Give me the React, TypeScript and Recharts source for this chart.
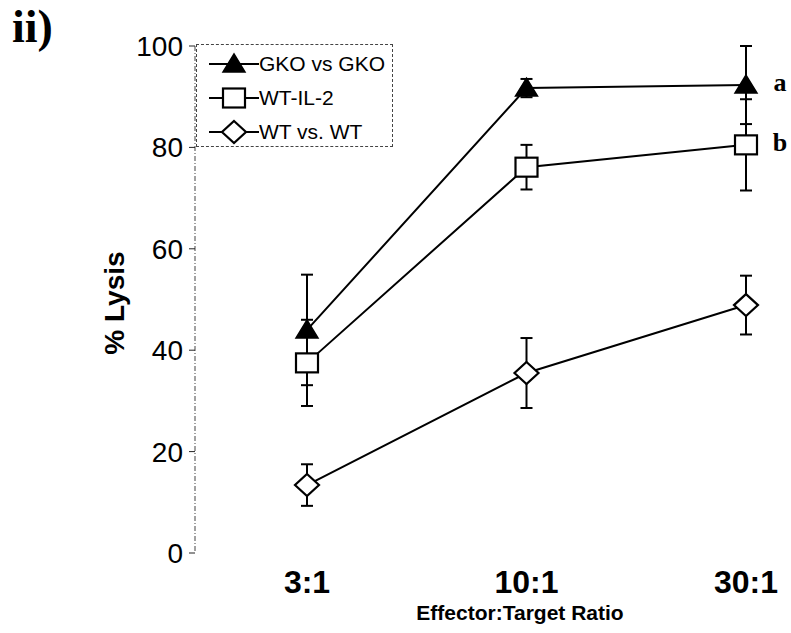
import React from 'react';
import { LineChart, Line, XAxis, YAxis, ErrorBar, Legend, LabelList } from 'recharts';

const ratios = ['3:1', '10:1', '30:1'];
const gkoLysis = [44, 91.7, 92.3];
const gkoErr = [10.9, 1.8, 7.7];
const il2Lysis = [37.5, 76.1, 80.5];
const il2Err = [8.5, 4.4, 9.0];
const wtLysis = [13.4, 35.5, 48.9];
const wtErr = [4.1, 6.9, 5.8];
const yTicks = [0, 20, 40, 60, 80, 100];
const seriesNames = ['GKO vs GKO', 'WT-IL-2', 'WT vs. WT'];
const sigMarks = ['a', 'b', ''];

const data = ratios.map((r, i) => ({
  ratio: r,
  gko: gkoLysis[i],
  gkoErr: gkoErr[i],
  il2: il2Lysis[i],
  il2Err: il2Err[i],
  wt: wtLysis[i],
  wtErr: wtErr[i],
}));

const SANS = '"Liberation Sans", Arial, sans-serif';
const SERIF = '"Liberation Serif", "Times New Roman", serif';

const Marker = ({ kind, cx, cy }: { kind: string; cx: number; cy: number }) => {
  if (kind === 'triangle') {
    return <polygon points={`${cx},${cy - 10} ${cx + 11},${cy + 8} ${cx - 11},${cy + 8}`} fill="#000" stroke="#000" strokeWidth={1.5} />;
  }
  if (kind === 'square') {
    return <rect x={cx - 11} y={cy - 9.5} width={22} height={19} fill="#fff" stroke="#000" strokeWidth={2.2} />;
  }
  return <polygon points={`${cx},${cy - 11} ${cx + 12},${cy} ${cx},${cy + 11} ${cx - 12},${cy}`} fill="#fff" stroke="#000" strokeWidth={2.2} />;
};

const dotFor = (kind: string) => (p: any) => <Marker key={`${kind}-${p.index}`} kind={kind} cx={p.cx} cy={p.cy} />;

const sigLabel = (mark: string) => (p: any) =>
  p.index === ratios.length - 1 && mark ? (
    <text key={`sig-${mark}`} x={p.x + 34} y={p.y + 6} fontFamily={SERIF} fontWeight="bold" fontSize={26} textAnchor="middle" fill="#000">
      {mark}
    </text>
  ) : null;

const kinds: Record<string, string> = { gko: 'triangle', il2: 'square', wt: 'diamond' };

const LegendBox = ({ payload }: any) => {
  const items = (payload || [])
    .filter((e: any) => e.type !== 'none')
    .sort((a: any, b: any) => seriesNames.indexOf(a.value) - seriesNames.indexOf(b.value));
  return (
    <div style={{ width: 197, height: 103, border: '1px dashed #444', boxSizing: 'border-box', paddingTop: 2 }}>
      {items.map((e: any) => (
        <div key={e.value} style={{ display: 'flex', alignItems: 'center', height: 34 }}>
          <svg width={62} height={26} style={{ marginLeft: 10 }}>
            <line x1={2} y1={13} x2={52} y2={13} stroke="#000" strokeWidth={2} />
            <Marker kind={kinds[e.dataKey]} cx={27} cy={13} />
          </svg>
          <span style={{ fontFamily: SANS, fontSize: 21, color: '#000', marginLeft: -10 }}>{e.value}</span>
        </div>
      ))}
    </div>
  );
};

const XTick = ({ x, y, payload }: any) => (
  <text x={x} y={y + 32} textAnchor="middle" fontFamily={SANS} fontWeight="bold" fontSize={32} fill="#000">
    {payload.value}
  </text>
);

export default function App() {
  return (
    <div style={{ position: 'absolute', left: 0, top: 0, width: 791, height: 633, background: '#fff' }}>
      <div style={{ position: 'absolute', left: 12, top: 2, fontFamily: SERIF, fontWeight: 'bold', fontSize: 46, lineHeight: '50px', color: '#000' }}>
        ii)
      </div>
      <LineChart width={791} height={633} data={data} margin={{ top: 46, right: 0, bottom: 20, left: 110 }}>
        <XAxis
          dataKey="ratio"
          padding={{ left: 112, right: 45 }}
          axisLine={false}
          tickLine={false}
          height={60}
          tick={<XTick />}
          label={{
            content: () => (
              <text x={520} y={620} textAnchor="middle" fontFamily={SANS} fontWeight="bold" fontSize={21} fill="#000">
                Effector:Target Ratio
              </text>
            ),
          }}
        />
        <YAxis
          width={85}
          domain={[0, 100]}
          allowDataOverflow
          ticks={yTicks}
          axisLine={{ stroke: '#444', strokeWidth: 1, strokeDasharray: '5 2 1 2' }}
          tickLine={{ stroke: '#222' }}
          tickSize={6}
          tickMargin={6}
          tick={{ fontFamily: SANS, fontSize: 28, fill: '#000' }}
          label={{
            content: () => (
              <text x={124} y={303} transform="rotate(-90 124 303)" textAnchor="middle" fontFamily={SANS} fontWeight="bold" fontSize={28} fill="#000">
                % Lysis
              </text>
            ),
          }}
        />
        <Legend
          layout="vertical"
          align="center"
          verticalAlign="middle"
          content={<LegendBox />}
          wrapperStyle={{ position: 'absolute', left: 196, top: 44, width: 197, height: 103 }}
        />
        {/* error bars first so every marker sits on top of them */}
        <Line dataKey="gko" stroke="none" dot={false} activeDot={false} legendType="none" isAnimationActive={false}>
          <ErrorBar dataKey="gkoErr" width={6} stroke="#000" strokeWidth={2} direction="y" />
        </Line>
        <Line dataKey="il2" stroke="none" dot={false} activeDot={false} legendType="none" isAnimationActive={false}>
          <ErrorBar dataKey="il2Err" width={6} stroke="#000" strokeWidth={2} direction="y" />
        </Line>
        <Line dataKey="wt" stroke="none" dot={false} activeDot={false} legendType="none" isAnimationActive={false}>
          <ErrorBar dataKey="wtErr" width={6} stroke="#000" strokeWidth={2} direction="y" />
        </Line>
        <Line type="linear" dataKey="gko" name={seriesNames[0]} stroke="#000" strokeWidth={2} dot={dotFor('triangle')} activeDot={false} isAnimationActive={false}>
          <LabelList dataKey="gko" content={sigLabel(sigMarks[0])} />
        </Line>
        <Line type="linear" dataKey="il2" name={seriesNames[1]} stroke="#000" strokeWidth={2} dot={dotFor('square')} activeDot={false} isAnimationActive={false}>
          <LabelList dataKey="il2" content={sigLabel(sigMarks[1])} />
        </Line>
        <Line type="linear" dataKey="wt" name={seriesNames[2]} stroke="#000" strokeWidth={2} dot={dotFor('diamond')} activeDot={false} isAnimationActive={false} />
      </LineChart>
    </div>
  );
}
